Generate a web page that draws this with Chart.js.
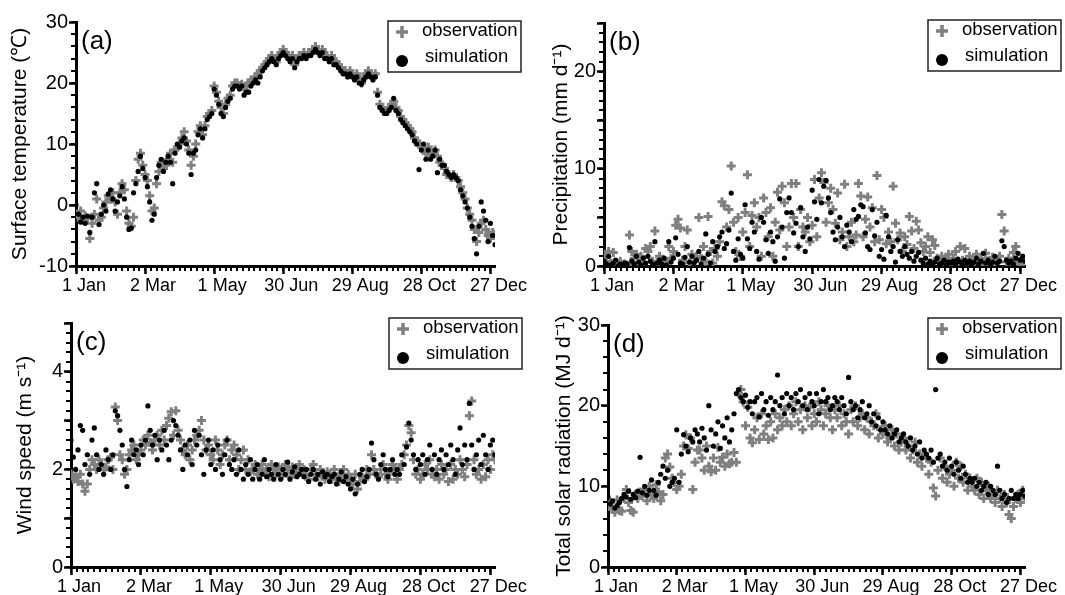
<!DOCTYPE html>
<html>
<head>
<meta charset="utf-8">
<script src="https://cdn.jsdelivr.net/npm/chart.js@4.4.1/dist/chart.umd.min.js"></script>
<style>
body { margin: 0; background: #fff; }
#page { position: relative; width: 1065px; height: 595px; overflow: hidden; }
.panel { position: absolute; }
</style>
</head>
<body>
<div id="page">
  <div class="panel" style="left:0;top:0"><canvas id="chartA" width="532" height="298"></canvas></div>
  <div class="panel" style="left:532px;top:0"><canvas id="chartB" width="533" height="298"></canvas></div>
  <div class="panel" style="left:0;top:298px"><canvas id="chartC" width="532" height="297"></canvas></div>
  <div class="panel" style="left:532px;top:298px"><canvas id="chartD" width="533" height="297"></canvas></div>
</div>
<script>
// day of year, every second day
var DAYS = [];
for (var d = 1; d <= 365; d += 2) DAYS.push(d);

var X_TICKS = [1, 61, 121, 181, 241, 301, 361];
var X_LABELS = ['1 Jan', '2 Mar', '1 May', '30 Jun', '29 Aug', '28 Oct', '27 Dec'];

var TEMP_TICKS = [-10, 0, 10, 20, 30];
var TEMP_LABELS = ['-10', '0', '10', '20', '30'];
var PREC_TICKS = [0, 5, 10, 15, 20, 25];
var PREC_LABELS = ['0', '', '10', '', '20', ''];
var WIND_TICKS = [0, 1, 2, 3, 4, 5];
var WIND_LABELS = ['0', '', '2', '', '4', ''];
var RAD_TICKS = [0, 10, 20, 30];
var RAD_LABELS = ['0', '10', '20', '30'];

var TEMP_OBS = [-1.5,-2,-1,-2.5,-1.8,-2.2,-5.5,-3,-1.5,1,
  -2.5,-2,-0.5,0.5,1.5,1,2,0.5,-1.5,2,
  3.5,2.5,-1,-3,-3.5,-2,4,7.5,8.5,6.5,
  5,4,1.5,-1,-0.5,3.5,5.5,7,6,6.5,
  7.5,8.5,7,9,9.5,10,11,12,10.5,9,
  6.5,8,10,12,13,11.5,13,14.5,15,15.5,
  19.5,18.5,17,16,15,16.5,17.5,18,19.5,20,
  20,19.5,19.8,19,19.5,20,20.5,20.5,21,21.5,
  22,22.5,23,23.5,24,24.5,24,23.5,24.5,25,
  25.5,25,24.5,24,24.5,23,24,24.5,24.5,25,
  24.5,25,25,25.5,26,25.5,25,25.5,24.5,24.5,
  24,24.5,23.5,23.5,23,22.5,22,22,21.5,22,
  21.5,21,21.5,20.5,20,21,21.5,22,21.5,21,
  21.5,18.5,16.5,16,15.5,15.5,16,16.5,17,16,
  15.5,14.5,14,13.5,13,12.5,12,11,10.5,10,
  9.5,9,8.5,9.5,8,8.5,9,8,7,6.5,
  6,5,5,4.5,5,4.5,4,3,2,1,
  -0.5,-1.5,-2.5,-4,-6,-4.5,-3,-2.5,-4,-5,
  -5.5,-4.5,-4.8];
var TEMP_SIM = [0,-1.5,-2.8,-2,-3,-1.8,-4.5,-2,2,3.5,
  -3.2,-1.5,0,-1,1.8,2.5,1,-1,0.5,1.5,
  3,1,-2,-4,-3.8,2,3.5,5.5,8,6,
  4.5,3,0.5,-2.5,-1.5,4.5,6.5,7.5,5.5,7,
  8,7,3.5,8.5,10,9.5,10.5,11,10,8.5,
  5,8.5,9,11.5,12.5,11,12.5,14,14.5,15,
  19,18,16.5,15,14.5,16,17,17.5,19,19.5,
  19.5,19,19.5,18,18.5,18.5,19.5,20,20.5,20,
  21,22,22.5,23,23.5,24,23.5,23,24,24.5,
  25,24.5,24,23.5,24,22.5,23.5,24,24,24.5,
  24,24.5,24.5,25,25.5,25,24.5,25,24,24,
  23.5,24,23,23,22.5,22,21.5,21.5,21,21.5,
  21,20.5,21,20,19.8,20.5,21,21.5,21,20.5,
  21,18,16,15.5,15,15,15.5,16,17.5,15.5,
  15,14,13.5,13,12.5,12,11.5,10.5,10,5.8,
  9,10,7.5,9,7.5,8,9,5.3,7.5,6.5,
  6.5,5.5,5,4.5,5,4.5,4,2.5,1.5,0.5,
  -0.5,-2,-3.5,-5.5,-8,-3.5,0.5,-1,-2.5,-6,
  -3,-5,-6.5];

var PREC_OBS = [1.2,0.5,1.5,0.3,1.4,0.1,0.2,0.5,0,0.2,
  0.1,3.2,1.5,0.8,1.2,0.3,1.0,0.2,1.8,1.5,
  2.0,0.5,3.6,0.4,1.0,0.1,0.6,0.3,2.0,0.8,
  1.5,4.2,4.8,3.9,0.6,2.0,3.7,0.3,1.2,0.5,
  1.0,5.0,0.8,2.0,0.5,5.1,1.5,0.3,1.8,1.0,
  2.5,6.6,6.2,4.0,5.8,10.3,4.5,1.5,5.0,1.0,
  3.5,5.5,9.4,2.0,5.2,6.5,4.0,5.0,1.0,7.0,
  5.5,3.0,6.0,1.0,4.5,7.6,3.7,8.2,6.5,2.0,
  4.0,8.5,5.0,8.5,2.0,5.8,4.0,3.5,5.0,2.5,
  4.2,8.9,3.0,7.0,9.6,8.6,4.5,6.5,8.0,5.8,
  4.4,7.5,2.7,3.5,8.4,2.0,3.0,4.5,2.5,3.2,
  8.5,7.2,3.0,4.8,7.1,4.0,6.0,2.5,9.3,2.7,
  5.8,5.0,2.3,3.5,2.5,8.2,4.4,2.7,3.4,1.5,
  3.0,2.2,5.1,3.6,1.8,4.6,3.7,2.4,1.5,2.0,
  3.0,1.4,2.7,2.1,0.8,0.5,1.0,0.3,0.7,1.2,
  0.2,0.8,1.5,0.4,2.0,0.6,1.8,0.3,1.0,0.5,
  0.2,1.2,0.3,0.8,0.1,1.3,0.5,0.2,0.9,0.3,
  0.6,1.0,5.3,3.6,0.4,0.8,0.2,1.4,2.0,0.5,
  0.3,0.8,0.1];
var PREC_SIM = [0.5,0.2,1.0,0.1,0.3,0.6,0,0.2,0.1,0.3,
  0.2,1.9,0.5,0.2,1.0,0.4,0.1,0.8,0.3,1.0,
  0.5,0.2,2.5,0.3,0.6,0.2,0.8,0.1,2.5,0.4,
  0.8,2.9,1.2,0.3,0.2,0.9,2.0,0.4,1.0,0.3,
  0.6,1.5,0.2,0.8,3.3,1.2,0.3,2.5,1.5,2.0,
  3.0,3.5,1.8,2.3,3.7,7.5,1.5,0.6,2.8,1.2,
  0.8,6.3,2.8,1.8,4.5,3.5,1.5,0.7,5.0,4.5,
  2.7,1.3,3.5,2.5,0.5,3.0,6.9,4.0,0.8,5.5,
  7.0,5.5,3.4,4.4,2.0,6.0,3.0,1.5,4.0,2.8,
  7.8,6.6,4.8,8.9,6.5,8.2,8.8,7.0,5.5,3.5,
  2.7,4.0,5.0,3.0,2.0,4.2,3.5,2.5,5.8,4.8,
  5.1,6.3,6.1,3.4,2.0,1.7,5.8,3.1,4.5,1.0,
  1.7,0.7,5.2,3.0,1.5,2.0,0.4,2.7,1.5,1.0,
  2.0,1.2,0.8,1.5,0.5,1.0,1.4,0.6,0.3,0.8,
  0.2,0.5,0.1,0.4,0.8,0.2,0.3,0.6,0.1,0.4,
  0.3,0.5,0.2,0.7,0.4,0.1,0.6,0.3,0.5,0.2,
  0.4,0.8,0.2,0.5,1.3,0.3,0.6,0.2,0.4,1.0,
  0.3,0.5,2.6,2.0,0.6,0.3,0.5,0.2,0.8,1.3,
  0.6,1.0,0.5];

var WIND_OBS = [1.9,1.8,1.85,1.75,1.9,1.7,1.55,1.7,2.0,2.2,
  2.1,2.0,2.2,2.1,2.0,2.05,2.2,2.25,2.0,3.28,
  3.0,2.3,2.2,1.9,2.0,2.3,2.4,2.5,2.2,2.3,
  2.4,2.6,2.5,2.7,2.55,2.4,2.6,2.7,2.5,2.8,
  2.6,2.9,3.05,3.18,2.7,3.2,2.8,2.6,2.4,2.3,
  2.5,2.2,2.4,2.6,2.7,2.8,3.0,2.6,2.4,2.5,
  2.3,2.2,2.6,2.4,2.1,2.3,2.5,2.6,2.2,2.4,
  2.5,2.3,2.0,2.2,2.4,2.0,2.2,1.95,2.0,2.1,
  1.9,2.0,2.1,1.95,2.0,1.85,2.1,2.0,1.9,2.05,
  2.0,1.9,2.1,2.0,1.85,2.05,1.9,2.0,2.1,1.95,
  2.0,1.9,1.8,2.0,2.1,1.9,1.85,2.0,1.9,1.8,
  1.95,1.9,1.8,2.0,1.85,1.75,1.9,2.0,1.8,1.9,
  1.8,1.7,1.9,1.6,1.75,1.85,1.8,2.0,1.9,2.3,
  2.0,1.9,1.85,2.0,2.1,1.9,1.8,1.95,2.1,2.0,
  1.8,2.0,2.1,2.3,2.5,2.9,2.75,2.2,1.9,2.0,
  1.8,1.9,2.1,2.0,2.2,1.9,1.85,2.0,1.8,2.1,
  1.9,2.0,1.75,2.1,1.8,2.0,1.9,2.2,2.0,1.85,
  2.1,3.1,3.4,2.2,1.9,2.0,1.8,2.1,1.85,2.2,
  2.0,2.3,2.2];
var WIND_SIM = [2.6,2.25,2.0,2.4,2.9,2.8,2.1,2.3,1.9,2.6,
  2.85,2.3,2.0,2.1,1.9,2.4,2.2,2.0,2.3,3.2,
  3.1,2.8,2.5,2.0,1.65,2.2,2.6,2.3,2.4,2.1,
  2.5,2.3,2.6,3.3,2.8,2.5,2.7,2.2,2.6,2.4,
  2.8,2.5,2.2,2.6,3.0,2.9,2.7,2.4,2.0,2.5,
  2.3,2.6,2.1,2.8,2.5,2.7,2.3,1.9,2.4,2.6,
  2.1,2.4,2.0,2.5,2.2,1.9,2.3,2.6,2.1,2.0,
  2.2,1.9,2.4,2.0,1.8,2.1,1.9,2.2,1.8,2.0,
  2.1,1.8,1.9,2.2,1.85,2.0,1.9,1.8,2.1,1.9,
  1.8,2.0,1.9,2.15,1.8,1.95,2.05,1.85,1.9,2.0,
  1.85,2.0,1.75,1.9,2.0,1.8,1.9,1.7,1.95,1.85,
  1.9,1.75,1.85,1.9,1.7,1.8,1.95,1.75,1.85,1.7,
  1.6,1.8,1.5,1.7,1.9,2.0,1.75,1.85,2.0,2.54,
  2.2,1.9,1.8,2.1,2.3,2.0,1.85,2.0,2.2,1.9,
  2.0,1.9,2.3,2.1,2.46,2.95,2.6,2.3,2.0,2.2,
  2.1,2.3,1.9,2.2,2.5,2.0,2.3,1.9,2.2,2.4,
  2.0,2.3,2.1,2.5,2.2,1.9,2.4,2.85,2.1,2.5,
  2.2,3.35,2.5,2.0,2.3,2.6,2.1,2.7,2.3,2.0,
  2.5,2.6,2.3];

var RAD_OBS = [7.5,8.0,7.2,6.8,8.3,7.0,6.9,8.5,9.6,8.0,
  7.0,6.8,9.0,8.5,9.3,8.8,9.6,8.2,10.0,9.0,
  8.5,10.2,9.3,8.2,9.0,13.5,14.0,12.4,11.0,10.5,
  9.6,10.0,11.5,15.0,16.4,14.7,16.0,9.6,13.0,14.5,
  14.5,13.5,12.0,15.0,12.5,11.8,13.5,12.0,14.8,13.0,
  13.6,12.5,14.0,12.8,13.0,14.2,13.0,21.5,22.0,20.5,
  17.5,19.8,16.0,15.4,17.0,18.5,15.8,19.0,16.5,17.5,
  15.8,18.0,16.0,19.0,17.0,18.5,17.5,19.5,18.0,20.0,
  17.5,19.0,20.5,18.0,19.5,17.0,20.0,18.5,19.8,17.5,
  19.0,18.0,20.5,19.5,17.5,19.0,20.0,18.5,17.0,19.5,
  18.5,20.0,17.5,19.0,18.0,16.5,19.5,18.0,20.0,17.5,
  18.5,19.0,17.0,18.5,16.5,18.0,17.5,19.0,16.0,17.0,
  16.5,17.5,15.5,16.0,17.0,15.0,16.5,14.5,15.5,16.0,
  14.5,15.0,13.5,14.5,15.5,13.0,14.0,12.5,14.0,13.5,
  11.5,13.0,9.8,8.8,12.0,13.5,11.0,12.5,10.5,11.5,
  12.0,10.0,13.0,11.0,12.5,10.5,11.5,9.5,11.0,10.0,
  9.5,11.0,9.0,10.5,8.5,9.5,10.0,8.5,9.0,8.0,
  9.5,8.5,7.5,9.0,8.0,6.5,6.0,7.5,8.5,9.0,
  8.0,9.5,8.5];
var RAD_SIM = [8.7,7.8,8.2,7.3,7.6,8.0,8.5,9.0,8.7,9.4,
  8.4,9.0,8.6,9.4,13.6,9.2,10.0,8.9,9.5,10.8,
  9.5,8.9,10.5,11.5,12.5,11.0,12.0,10.0,10.5,11.0,
  17.0,10.5,14.0,16.4,15.0,14.3,16.0,15.5,17.0,16.5,
  15.5,17.2,16.0,14.5,20.0,17.0,15.0,16.5,18.0,14.7,
  17.5,16.0,18.5,15.5,17.0,19.0,21.5,22.0,21.0,20.5,
  21.3,19.8,20.5,19.0,20.5,21.0,18.6,21.5,19.5,20.5,
  18.8,21.0,19.5,20.5,23.8,20.0,21.0,19.0,21.5,20.0,
  21.0,19.5,21.5,20.5,22.0,20.0,21.0,19.5,21.5,20.5,
  20.0,21.5,19.0,20.5,22.0,20.5,21.0,19.5,20.0,21.0,
  20.5,19.5,21.0,20.0,19.0,23.5,20.5,19.5,20.0,18.5,
  19.5,20.5,18.5,19.0,20.0,18.0,19.0,17.5,18.5,17.0,
  18.0,17.0,16.5,17.5,16.0,16.5,17.0,15.5,16.0,16.5,
  15.5,15.0,16.0,14.5,15.0,14.0,15.5,13.5,14.5,14.0,
  13.5,14.5,13.0,22.0,13.5,14.0,12.5,13.0,12.0,13.5,
  12.5,11.5,13.0,12.0,11.0,12.5,11.5,10.5,11.0,10.5,
  11.0,10.0,10.5,9.5,10.0,10.5,9.0,10.0,9.5,9.0,
  12.5,9.5,8.5,9.0,8.0,8.5,9.5,8.5,9.0,8.5,
  9.0,9.5,8.8];

var OBS_COLOR = 'rgb(128,128,128)';
var FONT = '"Liberation Sans", Arial, Helvetica, sans-serif';

function toPoints(values) {
    return DAYS.map(function (day, i) { return { x: day, y: values[i] }; });
}

// short ticks between the labelled ones
var minorTicks = {
    id: 'minorTicks',
    afterDraw: function (chart, args, opts) {
        var ctx = chart.ctx, xs = chart.scales.x, ys = chart.scales.y;
        var k, v, p;
        ctx.save();
        ctx.strokeStyle = '#000';
        ctx.lineWidth = 2;
        ctx.beginPath();
        for (k = 0; ; k++) {
            v = xs.min + k * opts.xStep;
            if (v > xs.max + 1e-6) break;
            p = Math.round(xs.getPixelForValue(v));
            ctx.moveTo(p, ys.bottom);
            ctx.lineTo(p, ys.bottom + opts.len);
        }
        for (k = 0; ; k++) {
            v = ys.min + k * opts.yStep;
            if (v > ys.max + 1e-6) break;
            p = Math.round(ys.getPixelForValue(v));
            ctx.moveTo(xs.left, p);
            ctx.lineTo(xs.left - opts.len, p);
        }
        ctx.stroke();
        ctx.restore();
    }
};

// panel letter and boxed legend
var panelDeco = {
    id: 'panelDeco',
    afterDraw: function (chart, args, opts) {
        var ctx = chart.ctx, a = chart.chartArea, b = opts.box;
        var sets = chart.data.datasets;
        ctx.save();
        ctx.fillStyle = '#000';
        ctx.textBaseline = 'middle';
        ctx.font = '26px ' + FONT;
        ctx.fillText(opts.letter, a.left + 5, a.top + 20);

        ctx.fillStyle = '#fff';
        ctx.fillRect(b.x, b.y, b.w, b.h);
        ctx.strokeStyle = '#222';
        ctx.lineWidth = 1.5;
        ctx.strokeRect(b.x, b.y, b.w, b.h);

        ctx.strokeStyle = OBS_COLOR;
        ctx.lineWidth = 3.5;
        ctx.beginPath();
        ctx.moveTo(b.x + 8, b.y + 11);
        ctx.lineTo(b.x + 20, b.y + 11);
        ctx.moveTo(b.x + 14, b.y + 5);
        ctx.lineTo(b.x + 14, b.y + 17);
        ctx.stroke();
        ctx.fillStyle = '#000';
        ctx.beginPath();
        ctx.arc(b.x + 14, b.y + 40, 6, 0, Math.PI * 2);
        ctx.fill();

        ctx.font = '18.5px ' + FONT;
        ctx.fillText(sets[0].label, b.x + 34, b.y + 10);
        ctx.fillText(sets[1].label, b.x + 37, b.y + 36);
        ctx.restore();
    }
};

function drawPanel(id, cfg) {
    var canvas = document.getElementById(id);
    var w = canvas.width, h = canvas.height;
    var area = cfg.area;

    new Chart(canvas, {
        type: 'scatter',
        data: {
            datasets: [{
                label: 'observation',
                data: toPoints(cfg.obs),
                pointStyle: 'cross',
                pointRadius: 4.5,
                pointBorderWidth: 3,
                pointBorderColor: OBS_COLOR,
                pointBackgroundColor: OBS_COLOR,
                borderColor: OBS_COLOR,
                backgroundColor: OBS_COLOR,
                order: 2
            }, {
                label: 'simulation',
                data: toPoints(cfg.sim),
                pointStyle: 'circle',
                pointRadius: 2.6,
                pointBorderWidth: 0,
                pointBorderColor: '#000',
                pointBackgroundColor: '#000',
                borderColor: '#000',
                backgroundColor: '#000',
                order: 1
            }]
        },
        options: {
            responsive: false,
            animation: false,
            devicePixelRatio: 1,
            layout: { padding: { top: area.top, right: w - area.right, bottom: 0, left: 0 } },
            plugins: {
                legend: { display: false },
                tooltip: { enabled: false },
                minorTicks: { xStep: 5, yStep: cfg.minor, len: 5 },
                panelDeco: { letter: cfg.letter, box: cfg.box }
            },
            scales: {
                x: {
                    type: 'linear',
                    min: 1,
                    max: 365,
                    border: { display: true, width: 3, color: '#000' },
                    grid: { drawOnChartArea: false, drawTicks: true, tickLength: 8, tickWidth: 2.5, tickColor: '#000', color: '#000' },
                    afterBuildTicks: function (s) {
                        s.ticks = X_TICKS.map(function (v) { return { value: v }; });
                    },
                    afterFit: function (s) { s.height = h - area.bottom; },
                    ticks: {
                        autoSkip: false,
                        maxRotation: 0,
                        minRotation: 0,
                        padding: 1,
                        labelOffset: 8,
                        color: '#000',
                        font: { family: FONT, size: 18 },
                        callback: function (v, i) { return X_LABELS[i]; }
                    }
                },
                y: {
                    type: 'linear',
                    min: cfg.yTicks[0],
                    max: cfg.yTicks[cfg.yTicks.length - 1],
                    border: { display: true, width: 3, color: '#000' },
                    grid: { drawOnChartArea: false, drawTicks: true, tickLength: 7, tickWidth: 2.5, tickColor: '#000', color: '#000' },
                    afterBuildTicks: function (s) {
                        s.ticks = cfg.yTicks.map(function (v) { return { value: v }; });
                    },
                    afterFit: function (s) { s.width = area.left; },
                    ticks: {
                        autoSkip: false,
                        padding: 1,
                        color: '#000',
                        font: { family: FONT, size: 20 },
                        callback: function (v, i) { return cfg.yLabels[i]; }
                    },
                    title: {
                        display: true,
                        text: cfg.title,
                        color: '#000',
                        font: { family: FONT, size: 21, lineHeight: 1.2 },
                        padding: { top: cfg.titlePad, bottom: 0 }
                    }
                }
            }
        },
        plugins: [minorTicks, panelDeco]
    });
}

drawPanel('chartA', {
    obs: TEMP_OBS, sim: TEMP_SIM, yTicks: TEMP_TICKS, yLabels: TEMP_LABELS, minor: 2,
    title: 'Surface temperature (\u2103)', titlePad: 8, letter: '(a)',
    area: { left: 76, right: 495, top: 22, bottom: 266 },
    box: { x: 388, y: 21, w: 133, h: 51 }
});
drawPanel('chartB', {
    obs: PREC_OBS, sim: PREC_SIM, yTicks: PREC_TICKS, yLabels: PREC_LABELS, minor: 1,
    title: 'Precipitation (mm d\u207B\u00B9)', titlePad: 17, letter: '(b)',
    area: { left: 72, right: 493, top: 23, bottom: 266 },
    box: { x: 396, y: 20, w: 133, h: 51 }
});
drawPanel('chartC', {
    obs: WIND_OBS, sim: WIND_SIM, yTicks: WIND_TICKS, yLabels: WIND_LABELS, minor: 0.2,
    title: 'Wind speed (m s\u207B\u00B9)', titlePad: 13, letter: '(c)',
    area: { left: 71, right: 495, top: 25, bottom: 269 },
    box: { x: 389, y: 20, w: 133, h: 51 }
});
drawPanel('chartD', {
    obs: RAD_OBS, sim: RAD_SIM, yTicks: RAD_TICKS, yLabels: RAD_LABELS, minor: 2,
    title: 'Total solar radiation (MJ d\u207B\u00B9)', titlePad: 20, letter: '(d)',
    area: { left: 76, right: 493, top: 27, bottom: 269 },
    box: { x: 396, y: 20, w: 133, h: 51 }
});
</script>
</body>
</html>
